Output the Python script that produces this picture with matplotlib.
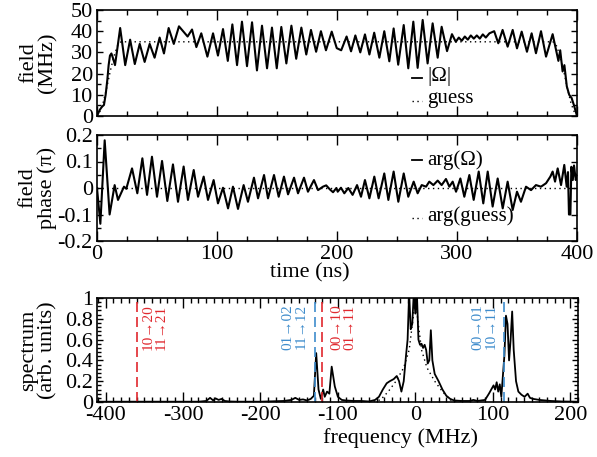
import numpy as np
import matplotlib
matplotlib.use('Agg')
import matplotlib.pyplot as plt
from matplotlib.ticker import MultipleLocator, FormatStrFormatter

plt.rcParams['font.family'] = ['Liberation Serif', 'DejaVu Serif']
plt.rcParams['axes.unicode_minus'] = False

# ---- field amplitude |Omega| (MHz) (peaks / troughs) ----
amp_t = [0, 2.2, 4.2, 5.8, 7.2, 8.6, 9.7, 10.8, 12.0, 13.5, 15.0, 17.0, 19.3, 23.5, 27.6, 31.5,
         35.6, 39.7, 43.9, 48.0, 52.2, 55.8, 59.7, 64.0, 68.3, 72.5, 75.5, 79.2, 82.8, 86.9,
         92.0, 96.7, 100.8, 105.0, 109.0, 112.8, 116.7, 120.8, 125.0, 129.2, 133.3, 137.5,
         141.7, 145.8, 149.8, 153.6, 157.8, 162.0, 166.0, 170.3, 174.4, 178.3, 182.6, 186.6,
         190.8, 195.6, 199.8, 203.5, 208.0, 211.7, 215.3, 219.4, 223.3, 227.0, 231.0, 235.3,
         239.4, 243.6, 247.2, 251.0, 255.6, 259.4, 263.6, 267.2, 271.4, 275.5, 279.7, 283.9,
         287.2, 291.7, 295.8, 299.0, 301.5, 304.0, 306.5, 309.0, 311.5, 314.0, 316.5, 319.0,
         321.5, 324.0, 327.0, 331.0, 334.4, 338.0, 342.2, 346.4, 350.0, 353.9, 358.3, 362.2,
         365.8, 370.0, 374.2, 379.7, 384.5, 386.0, 388.0, 389.5, 391.5, 393.5, 395.5, 397.5, 400]
amp_v = [0, 2.8, 4.4, 5.2, 10, 17, 24, 28.5, 29.5, 27, 24, 32, 41.5, 24, 36, 24.5,
         34, 25.5, 34, 27.5, 37, 29.5, 41.5, 34, 42.3, 39.5, 37.5, 40.8, 32.5, 39,
         28, 39, 28.5, 41, 26, 43.2, 24, 44.5, 23.5, 44.2, 21.5, 42.6,
         22.5, 41.7, 22.5, 42, 24.8, 42.6, 27, 41.7, 29, 40.6, 30.3, 40,
         31, 39.8, 32, 31, 37.5, 30.5, 38, 30, 38.5, 29, 39.3, 27.5,
         40, 25.8, 41.3, 24.2, 42.9, 22.5, 44.5, 22.7, 45.3, 24.8, 43.7, 27.5,
         42.1, 30.6, 38.6, 35, 37, 35.5, 37.5, 36, 38, 36.5, 38, 36.5,
         38.5, 37, 39, 40, 34.3, 40.6, 32.7, 40.6, 31.9, 39.8, 30.3, 39,
         29.6, 40, 28, 38.6, 26, 31, 21, 24, 14, 10, 8.5, 5, 0]

guess_t = [0, 2, 5, 8, 11, 14, 17, 20, 380, 383, 386, 389, 392, 395, 398, 400]
guess_v = [0, 1.5, 6, 13, 21, 28, 33, 35, 35, 33, 28, 21, 13, 6, 1.5, 0]

# ---- field phase arg(Omega) (units of pi) ----
ph_t = [0, 2.8, 6.4, 10.5, 14.7, 17.5, 22.5, 24.4, 29.2, 33.6, 37.8, 41.7, 45.8, 50.0,
        54.2, 58.6, 63.3, 67.5, 72.2, 75.8, 80.6, 84.2, 88.9, 92.5, 97.2, 100.8, 105.0,
        109.2, 113.3, 117.5, 122.2, 125.8, 130.8, 134.2, 139.2, 142.5, 147.5, 151.4, 155.8,
        159.2, 164.2, 167.5, 172.5, 175.8, 180.8, 184.2, 188.3, 191.0, 194.0, 196.7, 199.5,
        200.6, 203.3, 206.1, 209.4, 213.0, 216.7, 220.0, 223.3, 227.0, 231.1, 234.7, 239.4,
        242.8, 247.2, 251.1, 255.6, 259.4, 263.9, 267.2, 270.6, 274.2, 276.9, 280.3, 283.9,
        287.2, 290.8, 293.6, 296.4, 299.2, 302.8, 306.1, 310.3, 313.9, 318.1, 321.9, 325.6,
        329.7, 333.9, 338.1, 342.2, 346.4, 350.0, 353.3, 357.5, 361.7, 365.8, 370.0, 374.2,
        377.8, 379.7, 381.7, 383.9, 386.7, 389.4, 391.4, 392.5, 393.3, 394.5, 395.3, 396.5,
        397.5, 399.0, 400]
ph_v = [0, -0.135, 0.18, -0.10, 0.011, -0.045, 0.005, -0.003, 0.074, -0.02, 0.112, -0.026, 0.118, -0.033,
        0.102, -0.049, 0.089, -0.052, 0.081, -0.045, 0.068, -0.033, 0.043, -0.045, 0.030, -0.058, 0.001,
        -0.077, 0.005, -0.079, 0.011, -0.052, 0.039, -0.039, 0.049, -0.039, 0.049, -0.033, 0.043,
        -0.024, 0.039, -0.020, 0.039, -0.014, 0.030, -0.008, 0.005, 0.010, -0.005, -0.016, 0.0,
        -0.014, 0.001, -0.020, 0.0, -0.026, 0.011, -0.033, 0.030, -0.039, 0.043, -0.039, 0.055,
        -0.045, 0.062, -0.052, 0.055, -0.033, 0.024, -0.020, 0.011, 0.005, 0.024, 0.011, 0.028,
        0.011, 0.034, 0.005, 0.024, -0.014, 0.036, -0.033, 0.049, -0.045, 0.062, -0.058, 0.062,
        -0.070, 0.036, -0.077, 0.024, -0.083, -0.014, -0.052, 0.005, -0.008, 0.011, 0.005, 0.018,
        0.043, 0.062, 0.024, 0.074, 0.011, 0.087, 0.005, 0.06, -0.10, -0.10, 0.08, 0.03,
        0.085, 0.03, 0.05]
ph_guess_t = [0, 400]
ph_guess_v = [0, 0]

# ---- spectrum (arb. units) vs frequency (MHz) ----
spec_f = [-411, -280, -270, -265, -261, -258, -254, -250, -246, -240, -230, -200, -170, -160,
          -155, -150, -145, -140, -135, -131, -128, -125, -122, -119, -117, -114, -111, -108,
          -104, -100, -95, -90, -80, -70, -60, -52, -47, -42, -37, -33, -28, -24, -21, -18,
          -15, -12, -10, -8, -6, -4, -2, 0, 2, 4, 6, 8, 10, 12, 14, 16, 18, 20, 22, 25, 30,
          35, 40, 45, 50, 60, 70, 75, 80, 90, 95, 98, 101, 103, 105, 107, 109, 111, 113, 115,
          117, 119, 121, 123, 125, 127, 130, 133, 137, 141, 145, 148, 152, 160, 175, 190, 210]
spec_v = [0.003, 0.003, 0.01, 0.04, 0.015, 0.035, 0.02, 0.03, 0.01, 0.005, 0.003, 0.003, 0.01, 0.02,
          0.04, 0.02, 0.025, 0.015, 0.03, 0.06, 0.47, 0.12, 0.03, 0.12, 0.05, 0.1, 0.08, 0.34,
          0.15, 0.05, 0.02, 0.015, 0.01, 0.01, 0.005, 0.02, 0.05, 0.12, 0.18, 0.2, 0.22, 0.25, 0.2, 0.1,
          0.2, 0.45, 0.6, 1.05, 0.7, 0.75, 1.05, 0.85, 1.05, 0.6, 0.55, 0.56, 0.52, 0.55, 0.5, 0.37,
          0.4, 0.69, 0.4, 0.27, 0.2,
          0.12, 0.06, 0.03, 0.015, 0.01, 0.01, 0.02, 0.01, 0.02, 0.08, 0.12, 0.16, 0.12, 0.19, 0.1,
          0.17, 0.05, 0.25, 0.45,
          0.83, 0.75, 0.4, 0.6, 0.87, 0.5, 0.2, 0.1, 0.07, 0.05, 0.08, 0.04, 0.03, 0.02, 0.01, 0.005, 0.003]
spec_guess_f = [-60, -45, -35, -25, -15, -8, -3, 0, 3, 8, 15, 25, 35, 45, 60]
spec_guess_v = [0, 0.02, 0.1, 0.2, 0.33, 0.5, 0.8, 1.0, 0.8, 0.5, 0.33, 0.2, 0.1, 0.02, 0]

# transition lines and their labels
red_lines = [-360, -120]
blue_lines = [-129, 115]
red_labels = ['10\u219220\n11\u219221', '00\u219210\n01\u219211']
blue_labels = ['01\u219202\n11\u219212', '00\u219201\n10\u219211']

RED = '#e0282e'
BLUE = '#3e8ccc'
DOTS = (0, (1, 2.5))

fig = plt.figure(figsize=(5.97, 4.57), dpi=100)
W, H = 597.0, 457.0


def box(l, r, t, b):
    return [l / W, 1 - b / H, (r - l) / W, (b - t) / H]


ax1 = fig.add_axes(box(97, 577, 10, 116))
ax2 = fig.add_axes(box(97, 577, 135, 241))
ax3 = fig.add_axes(box(97, 578, 298, 402))

for ax in (ax1, ax2, ax3):
    ax.tick_params(which='both', direction='in', top=True, right=True, labelsize=16, pad=3, width=1)
    ax.tick_params(axis='y', which='major', length=4)
    ax.tick_params(axis='y', which='minor', length=3)
    ax.tick_params(axis='x', which='major', length=7)
    ax.tick_params(axis='x', which='minor', length=3.5)
    for s in ax.spines.values():
        s.set_linewidth(1.2)

line_kw = dict(color='k', lw=1.5, solid_joinstyle='round')

# top panel
ax1.plot(amp_t, amp_v, **line_kw)
ax1.plot(guess_t, guess_v, color='k', lw=1.0, ls=DOTS)
ax1.set_xlim(0, 400)
ax1.set_ylim(0, 50)
ax1.xaxis.set_major_locator(MultipleLocator(100))
ax1.xaxis.set_minor_locator(MultipleLocator(25))
ax1.yaxis.set_major_locator(MultipleLocator(10))
ax1.yaxis.set_minor_locator(MultipleLocator(5))
ax1.tick_params(labelbottom=False)
ax1.plot([0.656, 0.677], [0.36, 0.36], transform=ax1.transAxes, color='k', lw=1.3)
ax1.text(0.688, 0.37, '|\u03a9|', transform=ax1.transAxes, fontsize=15, va='center')
ax1.plot([0.656, 0.677], [0.14, 0.14], transform=ax1.transAxes, color='k', lw=1.0, ls=DOTS)
ax1.text(0.688, 0.165, 'guess', transform=ax1.transAxes, fontsize=15, va='center')

# middle panel
ax2.plot(ph_t, ph_v, **line_kw)
ax2.plot(ph_guess_t, ph_guess_v, color='k', lw=1.0, ls=DOTS)
ax2.set_xlim(0, 400)
ax2.set_ylim(-0.2, 0.2)
ax2.xaxis.set_major_locator(MultipleLocator(100))
ax2.xaxis.set_minor_locator(MultipleLocator(25))
ax2.yaxis.set_major_locator(MultipleLocator(0.1))
ax2.yaxis.set_minor_locator(MultipleLocator(0.05))
ax2.yaxis.set_major_formatter(FormatStrFormatter('%g'))
ax2.plot([0.656, 0.677], [0.764, 0.764], transform=ax2.transAxes, color='k', lw=1.3)
ax2.text(0.688, 0.764, 'arg(\u03a9)', transform=ax2.transAxes, fontsize=15, va='center')
ax2.plot([0.656, 0.677], [0.215, 0.215], transform=ax2.transAxes, color='k', lw=1.0, ls=DOTS)
ax2.text(0.688, 0.236, 'arg(guess)', transform=ax2.transAxes, fontsize=15, va='center')

# bottom panel
ax3.plot(spec_f, spec_v, color='k', lw=1.3, solid_joinstyle='round')
ax3.plot(spec_guess_f, spec_guess_v, color='k', lw=1.0, ls=DOTS)
for x in red_lines:
    ax3.axvline(x, color=RED, lw=1.2, ls=(0, (6, 3)))
for x in blue_lines:
    ax3.axvline(x, color=BLUE, lw=1.2, ls=(0, (6, 3)))
lab_kw = dict(rotation=90, fontsize=11, va='top', linespacing=1.0)
ax3.text(red_lines[0] + 7, 0.94, red_labels[0], color=RED, ha='left', **lab_kw)
ax3.text(red_lines[1] + 10, 0.94, red_labels[1], color=RED, ha='left', **lab_kw)
ax3.text(blue_lines[0] - 10, 0.94, blue_labels[0], color=BLUE, ha='right', **lab_kw)
ax3.text(blue_lines[1] - 9, 0.94, blue_labels[1], color=BLUE, ha='right', **lab_kw)
ax3.set_xlim(-411, 210)
ax3.set_ylim(0, 1)
ax3.xaxis.set_major_locator(MultipleLocator(100))
ax3.xaxis.set_minor_locator(MultipleLocator(10))
ax3.yaxis.set_major_locator(MultipleLocator(0.2))
ax3.yaxis.set_minor_locator(MultipleLocator(0.04))
ax3.yaxis.set_major_formatter(FormatStrFormatter('%g'))

# axis labels
ylab_kw = dict(rotation=90, ha='center', va='center', fontsize=16, multialignment='center', linespacing=1.0)
fig.text(38 / W, 1 - 63 / H, 'field\n(MHz)', **ylab_kw)
fig.text(38 / W, 1 - 188 / H, 'field\nphase (\u03c0)', **ylab_kw)
fig.text(38 / W, 1 - 350 / H, 'spectrum\n(arb. units)', **ylab_kw)
fig.text(310 / W, 1 - 273 / H, 'time (ns)', ha='center', va='center', fontsize=16)
fig.text(400 / W, 1 - 438 / H, 'frequency (MHz)', ha='center', va='center', fontsize=16)

fig.savefig('out.png', dpi=100)
